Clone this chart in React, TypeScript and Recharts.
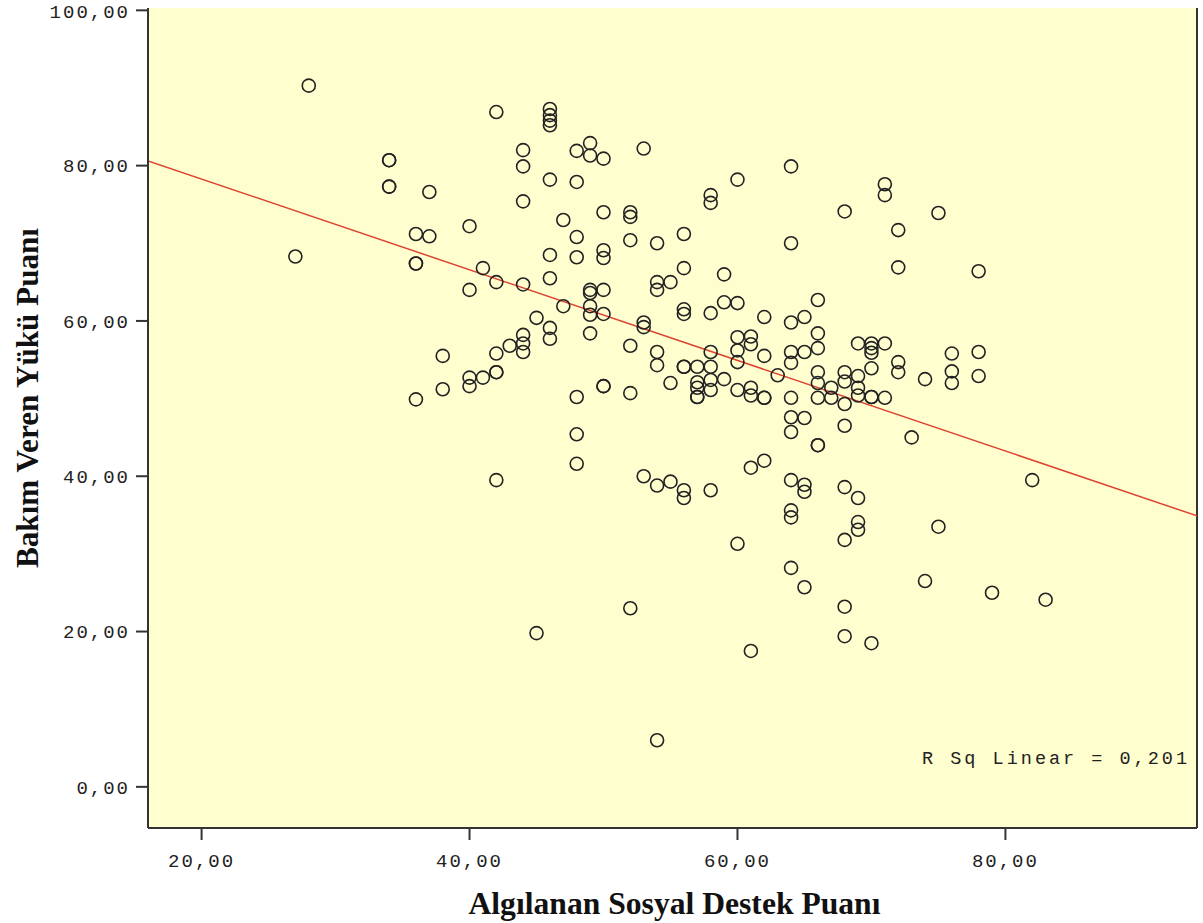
import React from 'react';
import { ScatterChart, Scatter, XAxis, YAxis, ReferenceLine, ReferenceArea, ReferenceDot } from 'recharts';

// Algılanan Sosyal Destek Puanı (x) grouped values and the Bakım Veren Yükü Puanı values at each
const supportScores = [27, 28, 34, 36, 37, 38, 40, 41, 42, 43, 44, 45, 46, 47, 48, 49, 50, 52, 53, 54, 55, 56, 57, 58, 59, 60, 61, 62, 63, 64, 65, 66, 67, 68, 69, 70, 71, 72, 73, 74, 75, 76, 78, 79, 82, 83];
const burdenScores: number[][] = [
  [68.3],
  [90.3],
  [80.7, 80.7, 77.3, 77.3],
  [71.2, 67.4, 67.4, 49.9],
  [76.6, 70.9],
  [55.5, 51.2],
  [72.2, 64.0, 52.7, 51.6],
  [66.8, 52.7],
  [86.9, 65.0, 55.8, 53.4, 53.4, 39.5],
  [56.8],
  [82.0, 79.9, 75.4, 64.7, 58.2, 57.1, 56.0],
  [60.4, 19.8],
  [87.3, 86.5, 85.8, 85.2, 78.2, 68.5, 65.5, 59.1, 57.7],
  [73.0, 61.9],
  [81.9, 77.9, 70.8, 68.2, 50.2, 45.4, 41.6],
  [82.9, 81.3, 64.0, 63.6, 61.9, 60.8, 58.4],
  [80.9, 74.0, 69.1, 68.1, 64.0, 60.9, 51.6, 51.6],
  [74.0, 73.4, 70.4, 56.8, 50.7, 23.0],
  [82.2, 59.8, 59.2, 40.0],
  [70.0, 65.0, 64.0, 56.0, 54.3, 38.8, 6.0],
  [65.0, 52.0, 39.3],
  [71.2, 66.8, 61.5, 60.9, 54.1, 54.1, 38.2, 37.2],
  [54.1, 52.1, 51.4, 50.2, 50.2],
  [76.2, 75.2, 61.0, 56.0, 54.1, 52.4, 51.1, 38.2],
  [66.0, 62.4, 52.5],
  [78.2, 62.3, 57.9, 56.2, 54.7, 51.1, 31.3],
  [58.0, 57.0, 51.4, 50.4, 41.1, 17.5],
  [60.5, 55.5, 50.1, 50.1, 42.0],
  [53.0],
  [79.9, 70.0, 59.8, 56.0, 54.6, 50.1, 47.6, 45.7, 39.5, 35.6, 34.7, 28.2],
  [60.5, 56.0, 47.5, 38.9, 38.0, 25.7],
  [62.7, 58.4, 56.5, 53.4, 52.0, 50.1, 44.0, 44.0],
  [51.4, 50.1],
  [74.1, 53.4, 52.2, 49.3, 46.5, 38.6, 31.8, 23.2, 19.4],
  [57.1, 52.9, 51.4, 50.4, 37.2, 34.1, 33.1],
  [57.1, 56.5, 55.9, 53.9, 50.2, 50.2, 18.5],
  [77.6, 76.2, 57.1, 50.1],
  [71.7, 66.9, 54.7, 53.4],
  [45.0],
  [52.5, 26.5],
  [73.9, 33.5],
  [55.8, 53.5, 52.0],
  [66.4, 56.0, 52.9],
  [25.0],
  [39.5],
  [24.1],
];

const xTicks = [20, 40, 60, 80];
const yTicks = [0, 20, 40, 60, 80, 100];
const xDomain = [16, 94.3];
const yDomain = [-5.3, 100.3];
const fitIntercept = 89.94;
const fitSlope = -0.5837;
const rSquared = '0,201';
const rSqAnchorY = 3.5;

const points = supportScores.flatMap((x, i) => burdenScores[i].map((y) => ({ x, y })));
const fitSegment = xDomain.map((x) => ({ x, y: fitIntercept + fitSlope * x }));

const fmt = (v: number) => v.toFixed(2).replace('.', ',');

const tickStyle = { fill: '#222', fontSize: 19, fontFamily: 'Liberation Mono, monospace', letterSpacing: 2 };

const Circle = (props: any) => (
  <circle cx={props.cx} cy={props.cy} r={6.5} fill="none" stroke="#222" strokeWidth={1.6} />
);

const XTitle = (props: any) => {
  const vb = props.viewBox || {};
  return (
    <text
      x={vb.x + vb.width / 2 + 2}
      y={vb.y + 75}
      textAnchor="middle"
      dominantBaseline="central"
      fontFamily="Liberation Serif, serif"
      fontWeight="bold"
      fontSize={31}
      textLength={412}
      lengthAdjust="spacingAndGlyphs"
      fill="#111"
    >
      Algılanan Sosyal Destek Puanı
    </text>
  );
};

const YTitle = (props: any) => {
  const vb = props.viewBox || {};
  const cx = vb.x + 27;
  const cy = vb.y + vb.height / 2 - 20;
  return (
    <text
      x={cx}
      y={cy}
      transform={`rotate(-90, ${cx}, ${cy})`}
      textAnchor="middle"
      dominantBaseline="central"
      fontFamily="Liberation Serif, serif"
      fontWeight="bold"
      fontSize={31}
      textLength={340}
      lengthAdjust="spacingAndGlyphs"
      fill="#111"
    >
      Bakım Veren Yükü Puanı
    </text>
  );
};

const RSqLabel = (props: any) => {
  const vb = props.viewBox || {};
  return (
    <text
      x={vb.x - 7}
      y={vb.y}
      textAnchor="end"
      dominantBaseline="central"
      fontFamily="Liberation Mono, monospace"
      fontSize={18.5}
      letterSpacing={3}
      fill="#222"
    >
      {`R Sq Linear = ${rSquared}`}
    </text>
  );
};

export default function App() {
  return (
    <div style={{ position: 'absolute', left: 0, top: 0, width: 1203, height: 923, background: '#fff' }}>
      <ScatterChart width={1203} height={923} margin={{ top: 8, right: 6, left: 0, bottom: 0 }}>
        <ReferenceArea
          x1={xDomain[0]}
          x2={xDomain[1]}
          y1={yDomain[0]}
          y2={yDomain[1]}
          fill="#FEFECF"
          fillOpacity={1}
          stroke="none"
          ifOverflow="hidden"
        />
        <XAxis
          type="number"
          dataKey="x"
          domain={xDomain}
          ticks={xTicks}
          allowDataOverflow
          height={95}
          tickSize={12}
          tickMargin={14}
          tickFormatter={fmt}
          axisLine={{ stroke: '#333', strokeWidth: 2 }}
          tickLine={{ stroke: '#333', strokeWidth: 2 }}
          tick={tickStyle}
          label={(p: any) => <XTitle {...p} />}
        />
        <YAxis
          type="number"
          dataKey="y"
          domain={yDomain}
          ticks={yTicks}
          allowDataOverflow
          width={148}
          tickSize={12}
          tickMargin={6}
          tickFormatter={fmt}
          axisLine={{ stroke: '#333', strokeWidth: 2 }}
          tickLine={{ stroke: '#333', strokeWidth: 2 }}
          tick={tickStyle}
          label={(p: any) => <YTitle {...p} />}
        />
        <ReferenceLine x={xDomain[1]} stroke="#333" strokeWidth={2} ifOverflow="extendDomain" />
        <ReferenceLine segment={fitSegment} stroke="#DD4433" strokeWidth={1.5} ifOverflow="hidden" />
        <Scatter data={points} isAnimationActive={false} shape={Circle} />
        <ReferenceDot
          x={xDomain[1]}
          y={rSqAnchorY}
          r={0}
          fill="none"
          stroke="none"
          ifOverflow="visible"
          label={(p: any) => <RSqLabel {...p} />}
        />
      </ScatterChart>
    </div>
  );
}
